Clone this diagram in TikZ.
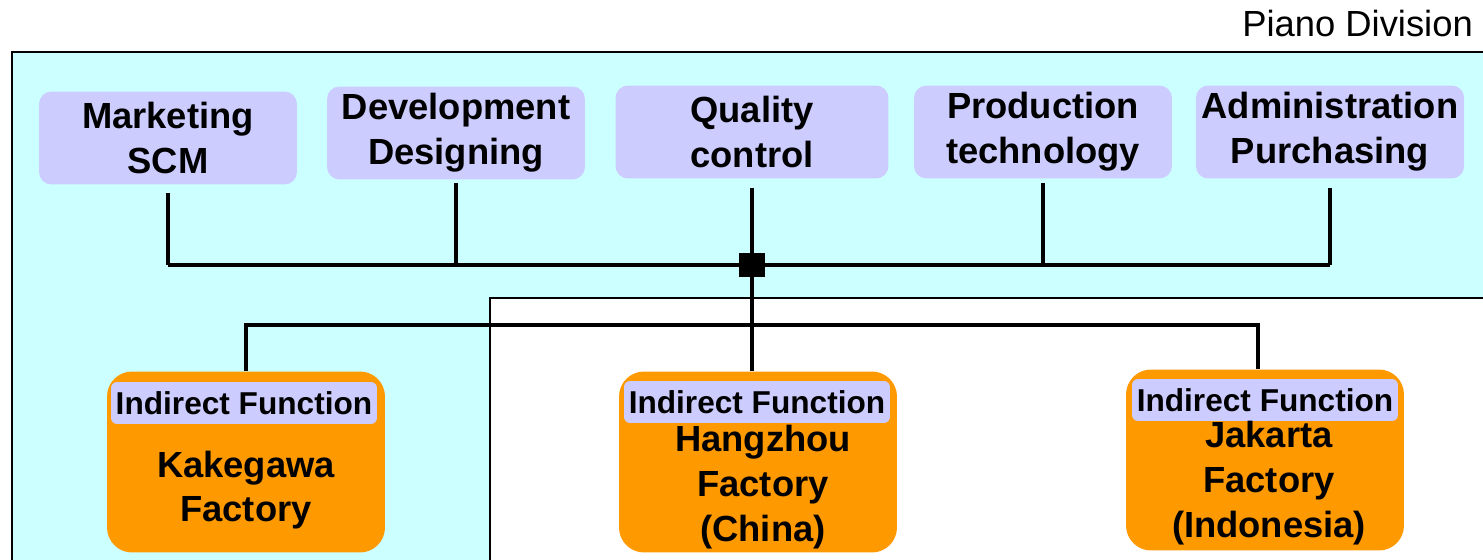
\documentclass[tikz,border=0pt]{standalone}
\usepackage{fontspec}
\setmainfont{Liberation Sans}
\usetikzlibrary{positioning}
\definecolor{panel}{HTML}{CCFFFF}
\definecolor{lilac}{HTML}{CCCCFF}
\definecolor{amber}{HTML}{FF9900}
\tikzstyle{dept} = [rectangle, 
			fill = lilac, 
			rounded corners = 0.25cm, 
			align = center, 
			font = \fontsize{20.7}{25.5}\selectfont\bfseries, 
			minimum width = 5.16cm, 
			minimum height = 1.86cm]
\tikzstyle{factory} = [rectangle, 
			fill = amber, 
			rounded corners = 0.5cm, 
			minimum width = 5.56cm, 
			minimum height = 3.62cm]
\tikzstyle{tag} = [rectangle, 
			fill = lilac, 
			rounded corners = 0.12cm, 
			inner sep = 0pt, 
			minimum width = 5.32cm, 
			minimum height = 0.84cm, 
			font = \fontsize{18}{20}\selectfont\bfseries]
\tikzstyle{sitetext} = [align = center, 
			font = \fontsize{20.7}{25.5}\selectfont\bfseries]
\tikzstyle{hub} = [rectangle, fill = black, inner sep = 0pt, 
			minimum width = 0.52cm, minimum height = 0.48cm]
\tikzstyle{line} = [draw, line width = 2.8pt]

\begin{document}
\begin{tikzpicture}[x = 0.02cm, y = -0.02cm]
	\clip (0,0) rectangle (1483,560);
	% division area and the overseas part
	\draw [fill = panel, line width = 1.2pt] (12,52) rectangle (1520,600);
	\draw [fill = white, line width = 0.9pt] (490,298) rectangle (1520,600);
	\node [anchor = base east, font = \fontsize{20.7}{24}\selectfont] (division) at (1479,37) {Piano Division};

	% head office functions
	\node [dept] (marketing) at (168,138) {Marketing\\SCM};
	\node [dept] (development) at (456,133) {Development\\Designing};
	\node [dept, minimum width = 5.46cm] (quality) at (752,132) {Quality\\control};
	\node [dept] (production) at (1043,132) {Production\\technology};
	\node [dept] (admin) at (1330,132) {Administration\\Purchasing};

	% factories
	\node [factory] (kakegawa) at (246,462) {};
	\node [tag] (kakegawaTag) at (244,403) {Indirect Function};
	\node [sitetext] (kakegawaName) at (246,490) {Kakegawa\\Factory};
	\node [factory] (hangzhou) at (758,462) {};
	\node [tag] (hangzhouTag) at (757,402) {Indirect Function};
	\node [sitetext] (hangzhouName) at (763,487) {Hangzhou\\Factory\\(China)};
	\node [factory] (jakarta) at (1265,460) {};
	\node [tag] (jakartaTag) at (1265,400) {Indirect Function};
	\node [sitetext] (jakartaName) at (1269,483) {Jakarta\\Factory\\(Indonesia)};

	% connections
	\node [hub] (hub) at (752,265) {};
	\coordinate (branch) at (752,325);
	\path [line] (marketing.south |- hub) -- (admin.south |- hub);
	\path [line] ([yshift = -0.16cm]marketing.south) -- (marketing.south |- hub);
	\path [line] ([yshift = -0.06cm]development.south) -- (development.south |- hub);
	\path [line] ([yshift = -0.18cm]quality.south) -- (hub);
	\path [line] ([yshift = -0.08cm]production.south) -- (production.south |- hub);
	\path [line] ([yshift = -0.18cm]admin.south) -- (admin.south |- hub);
	\path [line] (hub) -- (hub |- hangzhou.north);
	\path [line] (kakegawa.north) |- (branch) -| ([xshift = -0.14cm]jakarta.north);
\end{tikzpicture}
\end{document}
